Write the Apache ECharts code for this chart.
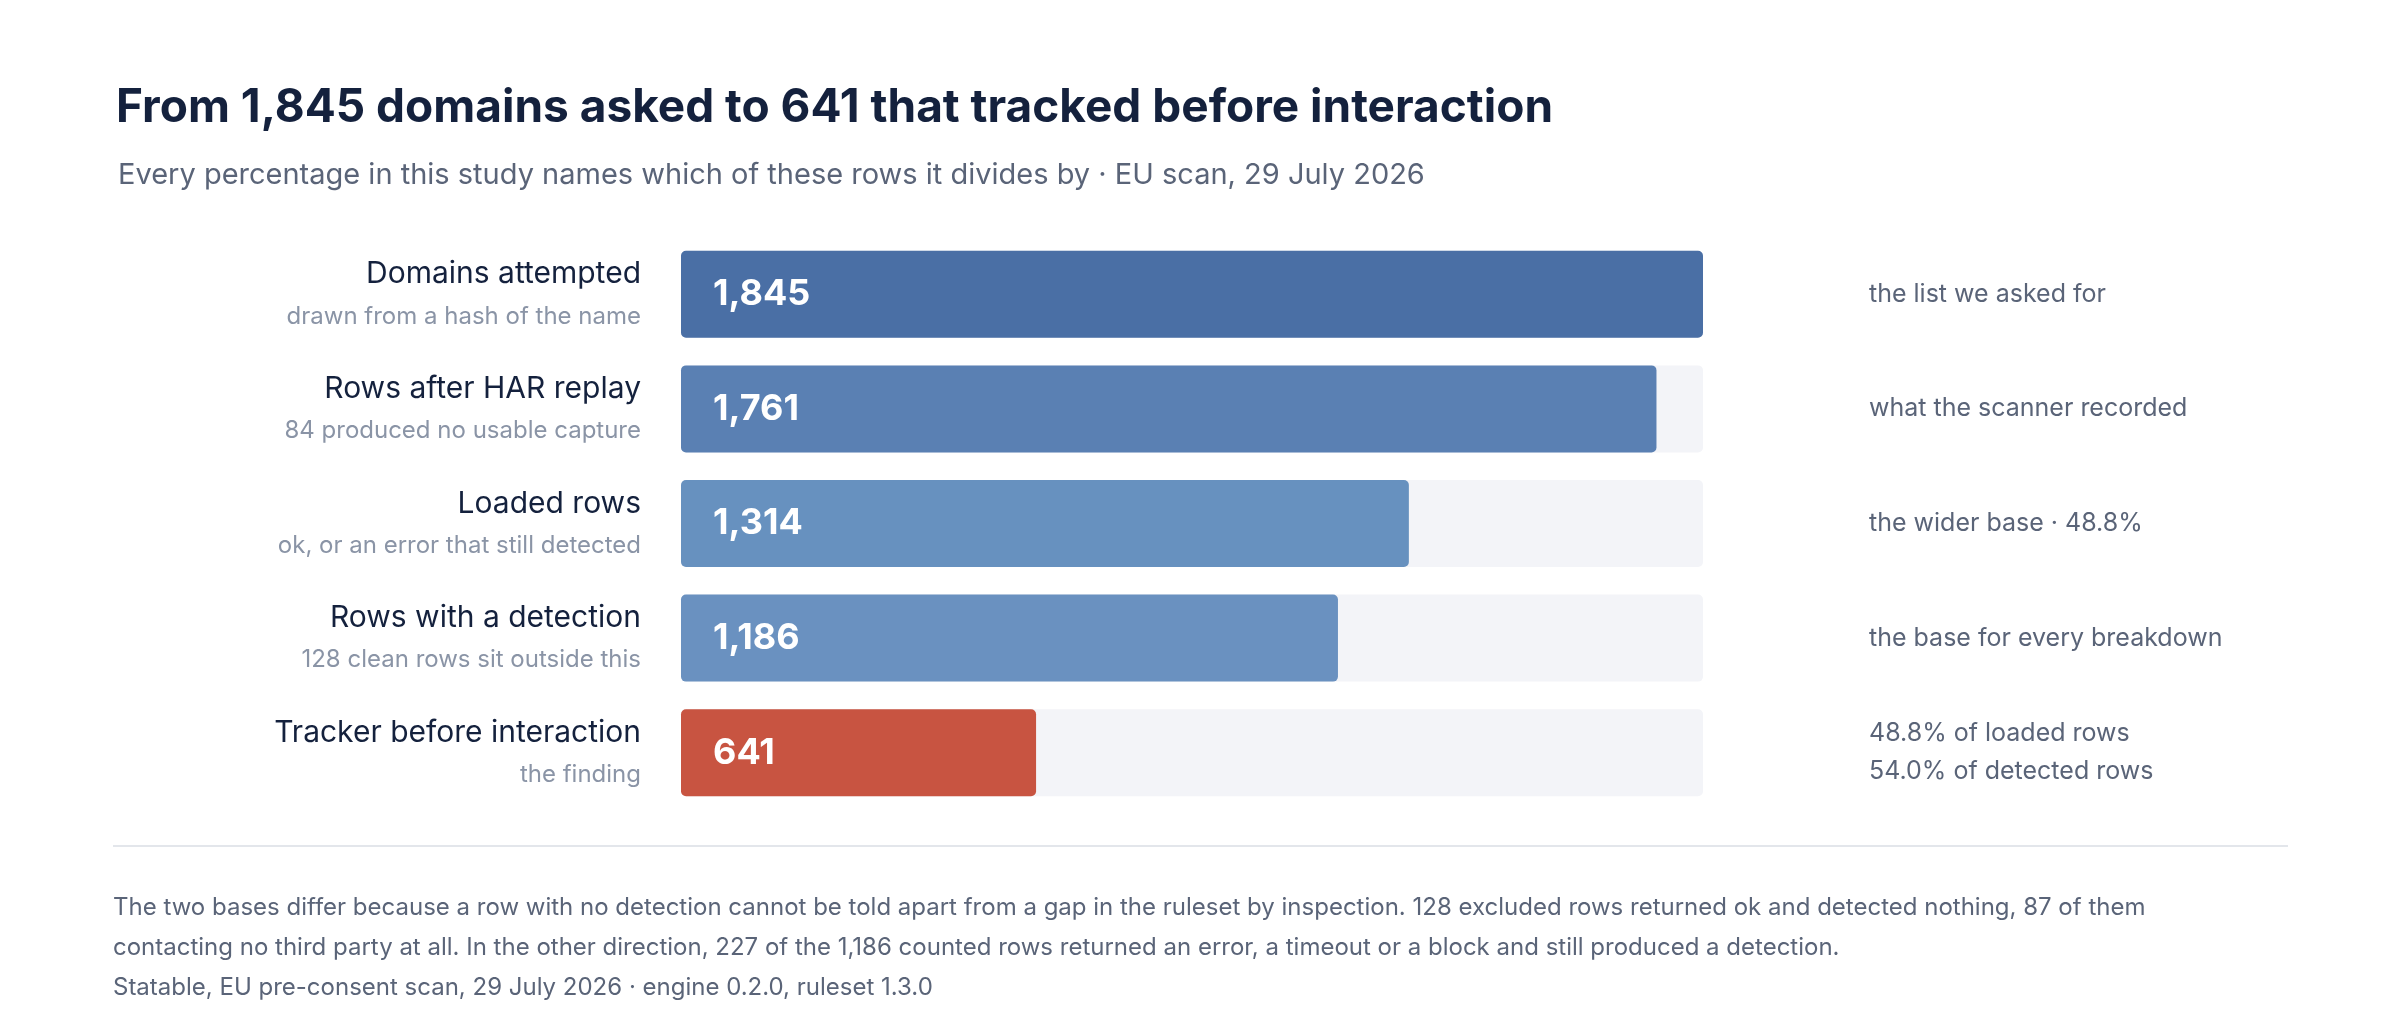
<!DOCTYPE html><html><head><meta charset="utf-8"><script src="https://cdn.jsdelivr.net/npm/echarts@6/dist/echarts.min.js"></script>
<style>html,body{margin:0;background:#fff}#c{width:2400px;height:1010px}</style></head><body><div id="c"></div><script>
const categories=['Domains attempted','Rows after HAR replay','Loaded rows','Rows with a detection','Tracker before interaction'];
const subLabels=['drawn from a hash of the name','84 produced no usable capture','ok, or an error that still detected','128 clean rows sit outside this','the finding'];
const values=[1845,1761,1314,1186,641];
const notes=['the list we asked for','what the scanner recorded','the wider base · 48.8%','the base for every breakdown','48.8% of loaded rows\n54.0% of detected rows'];
const colors=['#4a6fa5','#5a80b3','#6791bf','#6a91c0','#c85441'];
const F='Inter, "Noto Sans", sans-serif';
const chart=echarts.init(document.getElementById('c'));
chart.setOption({
 animation:false,
 title:[{text:'From 1,845 domains asked to 641 that tracked before interaction',left:111,top:80,textStyle:{fontFamily:F,fontSize:46,fontWeight:'bold',color:'#14213d'}},
  {text:'Every percentage in this study names which of these rows it divides by · EU scan, 29 July 2026',left:113,top:156,textStyle:{fontFamily:F,fontSize:29,fontWeight:'normal',color:'#5a6478'}}],
 grid:{left:681,right:697,top:237,height:573},
 xAxis:{type:'value',min:0,max:1845,show:false},
 yAxis:[{type:'category',inverse:true,data:categories,axisLine:{show:false},axisTick:{show:false},
   axisLabel:{margin:40,align:'right',formatter:(v,i)=>'{a|'+v+'}\n{b|'+subLabels[i]+'}',
    rich:{a:{fontFamily:F,fontSize:30,color:'#14213d',lineHeight:44,align:'right'},b:{fontFamily:F,fontSize:24,color:'#8a94a6',lineHeight:40,align:'right'}}}},
  {type:'category',inverse:true,position:'right',data:notes,axisLine:{show:false},axisTick:{show:false},
   axisLabel:{margin:166,align:'left',fontFamily:F,fontSize:25,color:'#5a6478',lineHeight:38}}],
 series:[{type:'bar',data:values.map((v,i)=>({value:v,itemStyle:{color:colors[i]}})),barWidth:87,
  showBackground:true,backgroundStyle:{color:'#f3f4f8',borderRadius:5},itemStyle:{borderRadius:5},
  label:{show:true,position:'insideLeft',distance:32,formatter:p=>p.value.toLocaleString('en-US'),fontFamily:F,fontSize:36,fontWeight:'bold',color:'#fff'}}],
 graphic:[{type:'line',shape:{x1:113,y1:846,x2:2288,y2:846},style:{stroke:'#e3e6eb',lineWidth:2}},
  {type:'text',left:113,top:888,style:{fontFamily:F,fontSize:24,fill:'#5a6478',lineHeight:40,
   text:'The two bases differ because a row with no detection cannot be told apart from a gap in the ruleset by inspection. 128 excluded rows returned ok and detected nothing, 87 of them\ncontacting no third party at all. In the other direction, 227 of the 1,186 counted rows returned an error, a timeout or a block and still produced a detection.\nStatable, EU pre-consent scan, 29 July 2026 · engine 0.2.0, ruleset 1.3.0'}}]
});
</script></body></html>
